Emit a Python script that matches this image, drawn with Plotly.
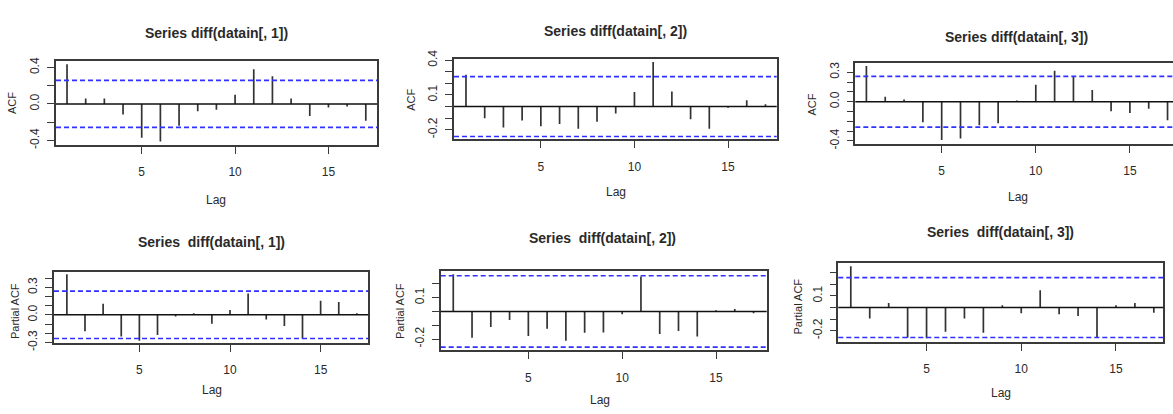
import plotly.graph_objects as go

W, H = 1173, 414

lags = list(range(1, 18))
acf1 = [0.435, 0.06, 0.06, -0.116, -0.372, -0.414, -0.239, -0.08, -0.063, 0.10, 0.382, 0.305, 0.06, -0.133, -0.04, -0.028, -0.186]
acf2 = [0.275, -0.10, -0.18, -0.12, -0.17, -0.15, -0.19, -0.13, -0.06, 0.125, 0.385, 0.13, -0.11, -0.19, -0.01, 0.055, 0.02]
acf3 = [0.365, 0.05, 0.023, -0.21, -0.39, -0.375, -0.24, -0.22, 0.013, 0.173, 0.316, 0.26, 0.12, -0.098, -0.114, -0.072, -0.19]
pacf1 = [0.443, -0.178, 0.122, -0.237, -0.282, -0.22, -0.017, 0.017, -0.098, 0.052, 0.233, -0.052, -0.122, -0.261, 0.153, 0.139, 0.017]
pacf2 = [0.268, -0.19, -0.113, -0.062, -0.178, -0.125, -0.212, -0.155, -0.152, -0.021, 0.252, -0.164, -0.141, -0.182, 0.009, 0.018, -0.014]
pacf3 = [0.355, -0.094, 0.039, -0.259, -0.264, -0.209, -0.094, -0.218, 0.019, -0.05, 0.149, -0.058, -0.072, -0.259, 0.019, 0.039, -0.044]
ci_bound = 0.258

titles = ["Series diff(datain[, 1])", "Series diff(datain[, 2])", "Series diff(datain[, 3])",
          "Series  diff(datain[, 1])", "Series  diff(datain[, 2])", "Series  diff(datain[, 3])"]
ylabels = ["ACF", "ACF", "ACF", "Partial ACF", "Partial ACF", "Partial ACF"]
series = [acf1, acf2, acf3, pacf1, pacf2, pacf3]

ytick_vals = [
    [-0.4, -0.2, 0.0, 0.2, 0.4],
    [-0.2, -0.1, 0.0, 0.1, 0.2, 0.3, 0.4],
    [-0.4, -0.3, -0.2, -0.1, 0.0, 0.1, 0.2, 0.3],
    [-0.3, -0.2, -0.1, 0.0, 0.1, 0.2, 0.3, 0.4],
    [-0.2, -0.1, 0.0, 0.1, 0.2],
    [-0.2, -0.1, 0.0, 0.1, 0.2, 0.3],
]
ytick_text = [
    ["-0.4", "", "0.0", "", "0.4"],
    ["-0.2", "", "", "0.1", "", "", "0.4"],
    ["-0.4", "", "", "", "0.0", "", "", "0.3"],
    ["-0.3", "", "", "0.0", "", "", "0.3", ""],
    ["-0.2", "", "", "0.1", ""],
    ["-0.2", "", "", "0.1", "", ""],
]

# layout geometry (pixels): x0, x1, y0(top), y1(bottom), xrange, yrange
geom = [
    (56, 377, 54, 142, [0.41, 17.6], [-0.453, 0.474]),
    (454, 776.7, 51.7, 136, [0.36, 17.6], [-0.283, 0.414]),
    (855.3, 1173, 56.7, 140.7, [0.41, 17.29], [-0.430, 0.391]),
    (54, 368.3, 274, 348.3, [0.29, 17.63], [-0.307, 0.47]),
    (440.7, 766.7, 272.7, 356, [0.33, 17.7], [-0.282, 0.296]),
    (838.3, 1163.3, 265, 347.3, [0.34, 17.5], [-0.297, 0.383]),
]
title_pos = [(216, 25), (615, 23.3), (1016.7, 29.3), (211.7, 243.3), (602.7, 239.3), (1000, 232.7)]
lag_pos = [(216, 199), (616, 191), (1017.7, 196), (211.7, 397.7), (600, 408), (1000.7, 400.7)]
ylab_pos = [(12, 98), (410.7, 95), (811.7, 100), (15, 315), (400, 315), (798.3, 310)]

BAR = "#333333"
AX = "#3a3a3a"
TXT = "#2a2a2a"
FONT = "Liberation Sans, Arial, sans-serif"

fig = go.Figure()
layout = dict(width=W, height=H, margin=dict(l=0, r=0, t=0, b=0),
              plot_bgcolor="white", paper_bgcolor="white", showlegend=False)
annotations = []
shapes = []

for i in range(6):
    n = "" if i == 0 else str(i + 1)
    xa, ya = "x" + n, "y" + n
    x0, x1, yt, yb, xr, yr = geom[i]
    vals = series[i]
    xs, ys = [], []
    for lg, v in zip(lags, vals):
        xs += [lg, lg, None]
        ys += [0, v, None]
    fig.add_trace(go.Scatter(x=xs, y=ys, mode="lines", line=dict(color=BAR, width=1.7),
                             xaxis=xa, yaxis=ya, hoverinfo="skip"))
    layout["xaxis" + n] = dict(
        domain=[x0 / W, min(x1 / W, 1.0)], range=xr, anchor=ya,
        showgrid=False, zeroline=False, showline=True, mirror=True,
        linecolor=AX, linewidth=1.6,
        tickvals=[5, 10, 15], ticktext=["5", "10", "15"],
        ticks="outside", ticklen=7, tickwidth=1.3, tickcolor=AX,
        ticklabelstandoff=8,
        tickfont=dict(family=FONT, size=12, color=TXT),
    )
    layout["yaxis" + n] = dict(
        domain=[1 - yb / H, 1 - yt / H], range=yr, anchor=xa,
        showgrid=False, zeroline=False, showline=True, mirror=(i != 2),
        linecolor=AX, linewidth=1.6,
        tickvals=ytick_vals[i], ticktext=ytick_text[i],
        ticks="outside", ticklen=7, tickwidth=1.3, tickcolor=AX,
        tickangle=-90, ticklabelstandoff=3,
        tickfont=dict(family=FONT, size=12, color=TXT),
    )
    shapes.append(dict(type="line", xref=xa + " domain", yref=ya, x0=0, x1=1, y0=0, y1=0,
                       line=dict(color="#111111", width=1.5)))
    for c in (ci_bound, -ci_bound):
        shapes.append(dict(type="line", xref=xa + " domain", yref=ya, x0=0, x1=1, y0=c, y1=c,
                           line=dict(color="#3030ff", width=1.7, dash="5px,3px")))
    tx, ty = title_pos[i]
    annotations.append(dict(text="<b>" + titles[i] + "</b>", x=tx / W, y=1 - ty / H,
                            xref="paper", yref="paper", xanchor="center", yanchor="middle",
                            showarrow=False, font=dict(family=FONT, size=14, color=TXT)))
    lx, ly = lag_pos[i]
    annotations.append(dict(text="Lag", x=lx / W, y=1 - ly / H, xref="paper", yref="paper",
                            xanchor="center", yanchor="middle",
                            showarrow=False, font=dict(family=FONT, size=12, color=TXT)))
    yx, yy = ylab_pos[i]
    annotations.append(dict(text=ylabels[i], x=yx / W, y=1 - yy / H, xref="paper", yref="paper",
                            xanchor="center", yanchor="middle",
                            showarrow=False, textangle=-90,
                            font=dict(family=FONT, size=11, color=TXT)))

layout["annotations"] = annotations
layout["shapes"] = shapes
fig.update_layout(**layout)
fig.write_html("out.html", config={"displayModeBar": False},
               post_script="document.body.style.margin='0';document.body.style.overflow='hidden';")
